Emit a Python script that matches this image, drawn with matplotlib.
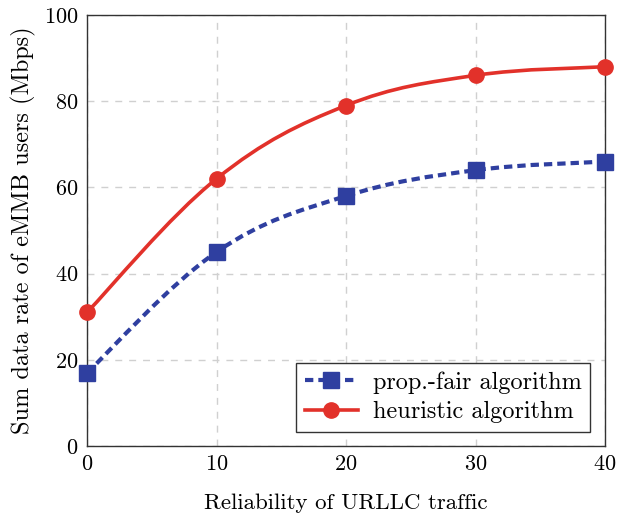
import numpy as np
import matplotlib
matplotlib.use("Agg")
import matplotlib.pyplot as plt
from matplotlib.path import Path
from matplotlib.patches import PathPatch
from matplotlib.lines import Line2D

# data
reliability = [0, 10, 20, 30, 40]
prop_fair = [17, 45, 58, 64, 66]
heuristic = [31, 62, 79, 86, 88]
x_ticks = [0, 10, 20, 30, 40]
y_ticks = [0, 20, 40, 60, 80, 100]

plt.rcParams['font.family'] = ['cmr10', 'DejaVu Serif']
plt.rcParams['axes.unicode_minus'] = False
plt.rcParams['axes.formatter.use_mathtext'] = True

BLUE = '#2f3fa0'
RED = '#e2312a'
DASH = (0, (2.0, 1.2))


def smooth_path(x, y, tension=0.55):
    """ Bezier path through the points, like pgfplots 'smooth'. """
    pts = np.column_stack([x, y]).astype(float)
    verts = [pts[0]]
    codes = [Path.MOVETO]
    n = len(pts)
    for i in range(n - 1):
        p0 = pts[i - 1] if i > 0 else pts[i]
        p1, p2 = pts[i], pts[i + 1]
        p3 = pts[i + 2] if i + 2 < n else pts[i + 1]
        c1 = p1 + (p2 - p0) * tension / 3
        c2 = p2 - (p3 - p1) * tension / 3
        verts += [c1, c2, p2]
        codes += [Path.CURVE4] * 3
    return Path(verts, codes)


fig = plt.figure(figsize=(6.17, 5.18), dpi=100)
ax = fig.add_axes([87 / 617, 72 / 518, 518 / 617, 431 / 518])

ax.set_xlim(0, 40)
ax.set_ylim(0, 100)
ax.set_xticks(x_ticks)
ax.set_yticks(y_ticks)
ax.tick_params(length=0, labelsize=16, pad=6)
ax.grid(True, color='#d0d0d0', linestyle=(0, (5, 5)), linewidth=1.0)
ax.set_axisbelow(True)
for sp in ax.spines.values():
    sp.set_linewidth(1.0)
    sp.set_color('#333333')

ax.add_patch(PathPatch(smooth_path(reliability, prop_fair), fill=False,
                       edgecolor=BLUE, linewidth=3, linestyle=DASH,
                       clip_on=False, zorder=3))
ax.add_patch(PathPatch(smooth_path(reliability, heuristic), fill=False,
                       edgecolor=RED, linewidth=2.6, clip_on=False, zorder=3))
ax.plot(reliability, prop_fair, linestyle='none', marker='s', markersize=11,
        color=BLUE, clip_on=False, zorder=4)
ax.plot(reliability, heuristic, linestyle='none', marker='o', markersize=11,
        color=RED, clip_on=False, zorder=4)

handles = [
    Line2D([], [], color=BLUE, linewidth=3, linestyle=DASH,
           marker='s', markersize=11),
    Line2D([], [], color=RED, linewidth=2.6, marker='o', markersize=11),
]
leg = ax.legend(handles, ['prop.-fair algorithm', 'heuristic algorithm'],
                loc='lower right', bbox_to_anchor=(0.971, 0.033), fontsize=17.5,
                fancybox=False, framealpha=1, edgecolor='#333333',
                handlelength=2.2, borderpad=0.35, labelspacing=0.3,
                borderaxespad=0, handletextpad=0.6)
leg.get_frame().set_linewidth(1.0)

ax.set_xlabel('Reliability of URLLC traffic', fontsize=16.5, labelpad=14)
ax.set_ylabel('Sum data rate of eMMB users (Mbps)', fontsize=17.5, labelpad=6)

fig.savefig('out.png', dpi=100)
